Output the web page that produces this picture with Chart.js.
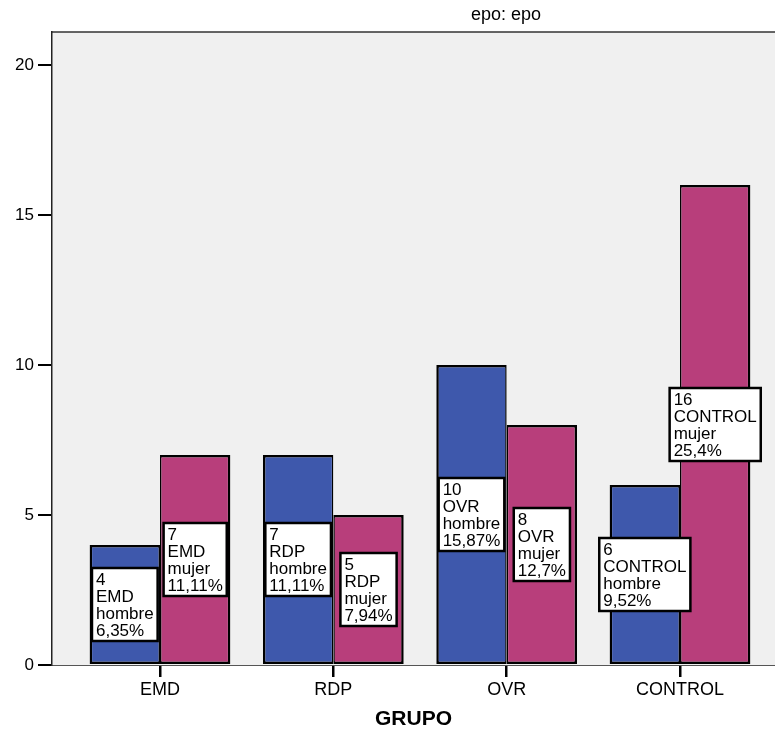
<!DOCTYPE html>
<html>
<head>
<meta charset="utf-8">
<script src="https://cdn.jsdelivr.net/npm/chart.js@4.4.0/dist/chart.umd.min.js"></script>
<style>
  body{margin:0;background:#fff;}
</style>
</head>
<body>
<canvas id="myChart" width="775" height="733"></canvas>
<script>
// datos del grafico
const grupos = ['EMD','RDP','OVR','CONTROL'];
const sexos = ['hombre','mujer'];
const hombre = [4,7,10,6];
const mujer = [7,5,8,16];
const yTicks = [0,5,10,15,20];
const titulo = 'epo: epo';
const ejeX = 'GRUPO';

const fuente = '"Liberation Sans", Arial, sans-serif';
let total = 0;
hombre.concat(mujer).forEach(v => total += v);

function pct(v){
  let s = (v/total*100).toFixed(2);
  s = s.replace(/0+$/,'').replace(/\.$/,'');
  return s.replace('.',',') + '%';
}

const fondo = {
  id:'fondo',
  beforeDraw(chart){
    const ctx = chart.ctx, a = chart.chartArea;
    ctx.save();
    ctx.fillStyle = '#f0f0f0';
    ctx.fillRect(a.left, a.top, a.right-a.left, a.bottom-a.top);
    ctx.strokeStyle = '#333';
    ctx.lineWidth = 1.5;
    ctx.beginPath();
    ctx.moveTo(a.left, a.top);
    ctx.lineTo(a.right, a.top);
    ctx.stroke();
    ctx.fillStyle = '#000';
    ctx.font = '18px ' + fuente;
    ctx.textAlign = 'center';
    ctx.textBaseline = 'middle';
    ctx.fillText(titulo, a.left + (a.right-a.left)*0.628, 15);
    ctx.restore();
  }
};

const etiquetas = {
  id:'etiquetas',
  afterDatasetsDraw(chart){
    const ctx = chart.ctx;
    ctx.save();
    ctx.font = '17px ' + fuente;
    ctx.textBaseline = 'middle';
    ctx.textAlign = 'left';
    chart.data.datasets.forEach((ds,d) => {
      chart.getDatasetMeta(d).data.forEach((bar,i) => {
        const v = ds.data[i].y;
        const lines = [String(v), grupos[i], sexos[d], pct(v)];
        const w = Math.max(...lines.map(t => ctx.measureText(t).width)) + 8;
        const h = lines.length*17 + 5;
        const x = bar.x - w/2, y = (bar.y + bar.base)/2 - h/2;
        ctx.fillStyle = '#fff';
        ctx.fillRect(x, y, w, h);
        ctx.strokeStyle = '#000';
        ctx.lineWidth = 2.5;
        ctx.strokeRect(x, y, w, h);
        ctx.fillStyle = '#000';
        lines.forEach((t,k) => ctx.fillText(t, x+4, y+3+17*k+9));
      });
    });
    ctx.restore();
  }
};

const ctx = document.getElementById('myChart');
new Chart(ctx, {
  type: 'bar',
  data: {
    datasets: [{
      label: sexos[0],
      data: hombre.map((v,i) => ({x:i, y:v})),
      backgroundColor: '#3e58ac',
      borderColor: '#000',
      borderWidth: {top:2.5, left:2.5, right:1.5, bottom:2.5},
      borderSkipped: false
    },{
      label: sexos[1],
      data: mujer.map((v,i) => ({x:i, y:v})),
      backgroundColor: '#b83e7b',
      borderColor: '#000',
      borderWidth: {top:2.5, left:1.5, right:2.5, bottom:2.5},
      borderSkipped: false
    }]
  },
  options: {
    responsive: false,
    animation: false,
    layout: {padding: {top:32, left:0, right:0, bottom:0}},
    categoryPercentage: 0.812,
    barPercentage: 1,
    plugins: {legend:{display:false}, tooltip:{enabled:false}},
    scales: {
      x: {
        type: 'linear',
        offset: false,
        min: -0.623,
        max: 3.548,
        afterBuildTicks: s => { s.ticks = grupos.map((g,i) => ({value:i})); },
        afterFit: s => { s.height = 68; },
        ticks: {
          callback: v => grupos[v],
          color: '#000',
          font: {size:18, family:fuente},
          padding: 2,
          maxRotation: 0,
          autoSkip: false
        },
        grid: {offset:false, drawOnChartArea:false, tickLength:12, color:'#000', lineWidth:2.5},
        border: {color:'#555', width:1},
        title: {display:true, text:ejeX, color:'#000', font:{size:21, weight:'bold', family:fuente}, padding:{top:0, bottom:1}}
      },
      y: {
        min: 0,
        max: 21.1,
        afterBuildTicks: s => { s.ticks = yTicks.map(v => ({value:v})); },
        afterFit: s => { s.width = 52; },
        ticks: {color:'#000', font:{size:17, family:fuente}, padding:4},
        grid: {drawOnChartArea:false, tickLength:14, color:'#000', lineWidth:2},
        border: {color:'#222', width:1.5}
      }
    }
  },
  plugins: [fondo, etiquetas]
});
</script>
</body>
</html>
